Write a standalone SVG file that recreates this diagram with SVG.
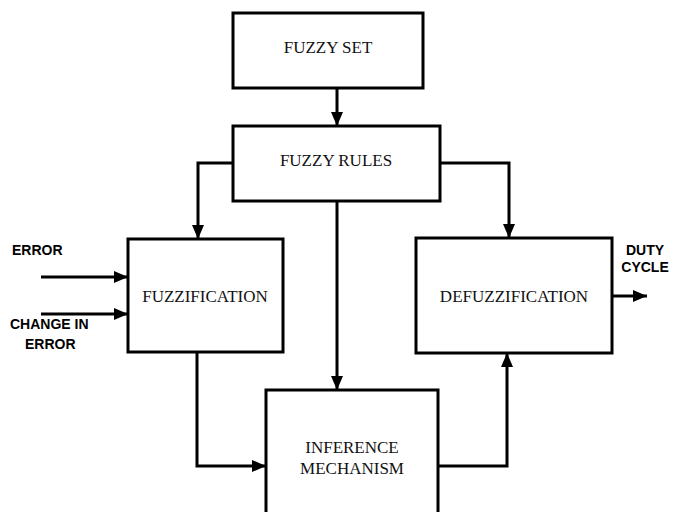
<svg xmlns="http://www.w3.org/2000/svg" width="686" height="512" viewBox="0 0 686 512">
<style>
.box{fill:#fff;stroke:#000;stroke-width:3}
.ln{fill:none;stroke:#000;stroke-width:3}
.t{font-family:"Liberation Serif","Times New Roman",serif;font-size:17px;fill:#111;text-anchor:middle}
.b{font-family:"Liberation Sans",Arial,sans-serif;font-size:14px;font-weight:bold;fill:#000}
</style>
<defs>
<marker id="ah" markerWidth="14" markerHeight="12" refX="14" refY="6" orient="auto" markerUnits="userSpaceOnUse">
<path d="M0,0 L14,6 L0,12 Z" fill="#000"/>
</marker>
</defs>
<g id="connectors">
<path class="ln" d="M337,88 V126" marker-end="url(#ah)"/>
<path class="ln" d="M233,163 H198 V239" marker-end="url(#ah)"/>
<path class="ln" d="M440,163 H509 V238" marker-end="url(#ah)"/>
<path class="ln" d="M337,201 V390" marker-end="url(#ah)"/>
<path class="ln" d="M197,352 V466 H266" marker-end="url(#ah)"/>
<path class="ln" d="M438,466 H507 V353" marker-end="url(#ah)"/>
<path class="ln" d="M41,277 H128" marker-end="url(#ah)"/>
<path class="ln" d="M41,314 H128" marker-end="url(#ah)"/>
<path class="ln" d="M612,296 H647" marker-end="url(#ah)"/>
</g>
<g id="fuzzy-set">
<rect class="box" x="233" y="13" width="190" height="75"/>
<text class="t" x="328" y="53">FUZZY SET</text>
</g>
<g id="fuzzy-rules">
<rect class="box" x="233" y="126" width="207" height="75"/>
<text class="t" x="336" y="166">FUZZY RULES</text>
</g>
<g id="fuzzification">
<rect class="box" x="128" y="239" width="155" height="113"/>
<text class="t" x="205" y="302">FUZZIFICATION</text>
</g>
<g id="defuzzification">
<rect class="box" x="416" y="238" width="196" height="115"/>
<text class="t" x="514" y="302">DEFUZZIFICATION</text>
</g>
<g id="inference">
<rect class="box" x="266" y="390" width="172" height="130"/>
<text class="t" x="352" y="453">INFERENCE</text>
<text class="t" x="352" y="474">MECHANISM</text>
</g>
<g id="labels">
<text class="b" x="12" y="255">ERROR</text>
<text class="b" x="10" y="329">CHANGE IN</text>
<text class="b" x="25" y="349">ERROR</text>
<text class="b" x="645" y="255" text-anchor="middle">DUTY</text>
<text class="b" x="645" y="272" text-anchor="middle">CYCLE</text>
</g>
</svg>
